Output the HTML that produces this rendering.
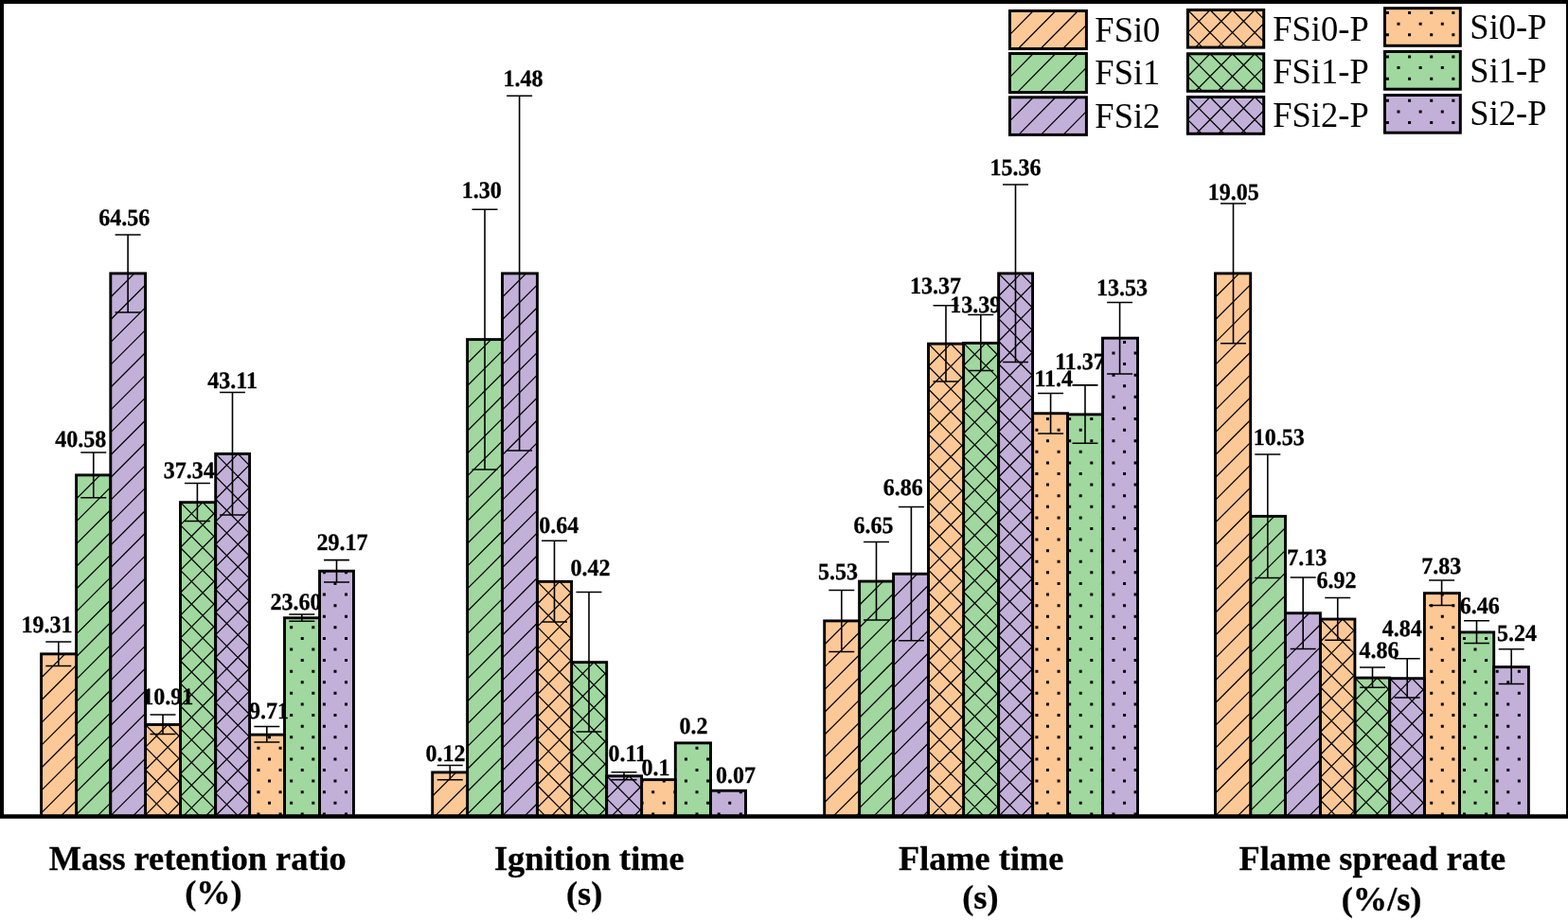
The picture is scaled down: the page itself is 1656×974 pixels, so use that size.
<!DOCTYPE html>
<html lang="en"><head><meta charset="utf-8"><title>Flame test bar chart</title>
<style>html,body{margin:0;padding:0;background:#fff}body{width:1656px;height:974px;overflow:hidden}svg{display:block}text{font-family:"Liberation Serif","Times New Roman",serif;fill:#000}.l{font-weight:bold;font-size:24.0px;stroke:#000;stroke-width:.3px}.c{font-weight:bold;font-size:36.3px;stroke:#000;stroke-width:.3px}.g{font-size:36.5px}</style></head><body>
<svg width="1656" height="974" viewBox="0 0 1656 974">
<rect width="1656" height="974" fill="#fff"/>
<g>
<rect x="80.6" y="501.89" width="36.2" height="360.51" fill="#A0D89F"/>
<path d="M80.6 503.19L81.9 501.89M80.6 527.01L105.72 501.89M80.6 550.83L116.8 514.63M80.6 574.65L116.8 538.45M80.6 598.47L116.8 562.27M80.6 622.29L116.8 586.09M80.6 646.11L116.8 609.91M80.6 669.93L116.8 633.73M80.6 693.75L116.8 657.55M80.6 717.57L116.8 681.37M80.6 741.39L116.8 705.19M80.6 765.21L116.8 729.01M80.6 789.03L116.8 752.83M80.6 812.85L116.8 776.65M80.6 836.67L116.8 800.47M80.6 860.49L116.8 824.29M102.51 862.4L116.8 848.11" stroke="#000" stroke-width="1.25" fill="none"/>
<rect x="80.6" y="501.89" width="36.2" height="360.51" fill="none" stroke="#000" stroke-width="2.9"/>
<rect x="190.5" y="530.67" width="37.2" height="331.73" fill="#A0D89F"/>
<path d="M190.5 554.57L214.1 530.67M190.5 578.47L227.7 540.8M190.5 602.37L227.7 564.7M190.5 626.27L227.7 588.6M190.5 650.17L227.7 612.5M190.5 674.07L227.7 636.4M190.5 697.97L227.7 660.3M190.5 721.87L227.7 684.2M190.5 745.77L227.7 708.1M190.5 769.67L227.7 732M190.5 793.57L227.7 755.9M190.5 817.47L227.7 779.8M190.5 841.37L227.7 803.7M193.34 862.4L227.7 827.6M216.94 862.4L227.7 851.5M214.1 530.67L227.7 544.44M190.5 530.67L227.7 568.34M190.5 554.57L227.7 592.24M190.5 578.47L227.7 616.14M190.5 602.37L227.7 640.04M190.5 626.27L227.7 663.94M190.5 650.17L227.7 687.84M190.5 674.07L227.7 711.74M190.5 697.97L227.7 735.64M190.5 721.87L227.7 759.54M190.5 745.77L227.7 783.44M190.5 769.67L227.7 807.34M190.5 793.57L227.7 831.24M190.5 817.47L227.7 855.14M190.5 841.37L211.26 862.4" stroke="#000" stroke-width="1.25" fill="none"/>
<rect x="190.5" y="530.67" width="37.2" height="331.73" fill="none" stroke="#000" stroke-width="2.9"/>
<rect x="300.5" y="652.74" width="37.05" height="209.66" fill="#A0D89F"/>
<path d="M306.15 661.31H309.15V664.31H306.15ZM306.15 684.5H309.15V687.5H306.15ZM306.15 707.68H309.15V710.68H306.15ZM306.15 730.87H309.15V733.87H306.15ZM306.15 754.06H309.15V757.06H306.15ZM306.15 777.24H309.15V780.24H306.15ZM306.15 800.43H309.15V803.43H306.15ZM306.15 823.61H309.15V826.61H306.15ZM306.15 846.8H309.15V849.8H306.15ZM329.31 661.31H332.31V664.31H329.31ZM329.31 684.5H332.31V687.5H329.31ZM329.31 707.68H332.31V710.68H329.31ZM329.31 730.87H332.31V733.87H329.31ZM329.31 754.06H332.31V757.06H329.31ZM329.31 777.24H332.31V780.24H329.31ZM329.31 800.43H332.31V803.43H329.31ZM329.31 823.61H332.31V826.61H329.31ZM329.31 846.8H332.31V849.8H329.31ZM317.73 672.9H320.73V675.9H317.73ZM317.73 696.09H320.73V699.09H317.73ZM317.73 719.28H320.73V722.28H317.73ZM317.73 742.46H320.73V745.46H317.73ZM317.73 765.65H320.73V768.65H317.73ZM317.73 788.83H320.73V791.83H317.73ZM317.73 812.02H320.73V815.02H317.73ZM317.73 835.21H320.73V838.21H317.73ZM317.73 858.39H320.73V861.39H317.73Z" fill="#000"/>
<rect x="300.5" y="652.74" width="37.05" height="209.66" fill="none" stroke="#000" stroke-width="2.9"/>
<rect x="493.6" y="358.61" width="36.9" height="503.79" fill="#A0D89F"/>
<path d="M493.6 359.91L494.9 358.61M493.6 383.73L518.72 358.61M493.6 407.55L530.5 370.65M493.6 431.37L530.5 394.47M493.6 455.19L530.5 418.29M493.6 479.01L530.5 442.11M493.6 502.83L530.5 465.93M493.6 526.65L530.5 489.75M493.6 550.47L530.5 513.57M493.6 574.29L530.5 537.39M493.6 598.11L530.5 561.21M493.6 621.93L530.5 585.03M493.6 645.75L530.5 608.85M493.6 669.57L530.5 632.67M493.6 693.39L530.5 656.49M493.6 717.21L530.5 680.31M493.6 741.03L530.5 704.13M493.6 764.85L530.5 727.95M493.6 788.67L530.5 751.77M493.6 812.49L530.5 775.59M493.6 836.31L530.5 799.41M493.6 860.13L530.5 823.23M515.15 862.4L530.5 847.05" stroke="#000" stroke-width="1.25" fill="none"/>
<rect x="493.6" y="358.61" width="36.9" height="503.79" fill="none" stroke="#000" stroke-width="2.9"/>
<rect x="603.6" y="699.64" width="37.1" height="162.76" fill="#A0D89F"/>
<path d="M603.6 723.54L627.2 699.64M603.6 747.44L640.7 709.86M603.6 771.34L640.7 733.76M603.6 795.24L640.7 757.66M603.6 819.14L640.7 781.56M603.6 843.04L640.7 805.46M608.08 862.4L640.7 829.36M631.68 862.4L640.7 853.26M627.2 699.64L640.7 713.31M603.6 699.64L640.7 737.21M603.6 723.54L640.7 761.11M603.6 747.44L640.7 785.01M603.6 771.34L640.7 808.91M603.6 795.24L640.7 832.81M603.6 819.14L640.7 856.71M603.6 843.04L622.72 862.4" stroke="#000" stroke-width="1.25" fill="none"/>
<rect x="603.6" y="699.64" width="37.1" height="162.76" fill="none" stroke="#000" stroke-width="2.9"/>
<rect x="713.3" y="784.89" width="37.2" height="77.51" fill="#A0D89F"/>
<path d="M722.95 800.43H725.95V803.43H722.95ZM722.95 823.61H725.95V826.61H722.95ZM722.95 846.8H725.95V849.8H722.95ZM746.1 800.43H749.1V803.43H746.1ZM746.1 823.61H749.1V826.61H746.1ZM746.1 846.8H749.1V849.8H746.1ZM713.3 788.83H714.37V791.83H713.3ZM713.3 812.02H714.37V815.02H713.3ZM713.3 835.21H714.37V838.21H713.3ZM713.3 858.39H714.37V861.39H713.3ZM734.52 788.83H737.52V791.83H734.52ZM734.52 812.02H737.52V815.02H734.52ZM734.52 835.21H737.52V838.21H734.52ZM734.52 858.39H737.52V861.39H734.52Z" fill="#000"/>
<rect x="713.3" y="784.89" width="37.2" height="77.51" fill="none" stroke="#000" stroke-width="2.9"/>
<rect x="907.6" y="614.09" width="36" height="248.31" fill="#A0D89F"/>
<path d="M907.6 615.39L908.9 614.09M907.6 639.21L932.72 614.09M907.6 663.03L943.6 627.03M907.6 686.85L943.6 650.85M907.6 710.67L943.6 674.67M907.6 734.49L943.6 698.49M907.6 758.31L943.6 722.31M907.6 782.13L943.6 746.13M907.6 805.95L943.6 769.95M907.6 829.77L943.6 793.77M907.6 853.59L943.6 817.59M922.61 862.4L943.6 841.41" stroke="#000" stroke-width="1.25" fill="none"/>
<rect x="907.6" y="614.09" width="36" height="248.31" fill="none" stroke="#000" stroke-width="2.9"/>
<rect x="1017.6" y="362.41" width="37.05" height="499.99" fill="#A0D89F"/>
<path d="M1017.6 386.31L1041.2 362.41M1017.6 410.21L1054.65 372.69M1017.6 434.11L1054.65 396.59M1017.6 458.01L1054.65 420.49M1017.6 481.91L1054.65 444.39M1017.6 505.81L1054.65 468.29M1017.6 529.71L1054.65 492.19M1017.6 553.61L1054.65 516.09M1017.6 577.51L1054.65 539.99M1017.6 601.41L1054.65 563.89M1017.6 625.31L1054.65 587.79M1017.6 649.21L1054.65 611.69M1017.6 673.11L1054.65 635.59M1017.6 697.01L1054.65 659.49M1017.6 720.91L1054.65 683.39M1017.6 744.81L1054.65 707.29M1017.6 768.71L1054.65 731.19M1017.6 792.61L1054.65 755.09M1017.6 816.51L1054.65 778.99M1017.6 840.41L1054.65 802.89M1019.49 862.4L1054.65 826.79M1043.09 862.4L1054.65 850.69M1041.2 362.41L1054.65 376.03M1017.6 362.41L1054.65 399.93M1017.6 386.31L1054.65 423.83M1017.6 410.21L1054.65 447.73M1017.6 434.11L1054.65 471.63M1017.6 458.01L1054.65 495.53M1017.6 481.91L1054.65 519.43M1017.6 505.81L1054.65 543.33M1017.6 529.71L1054.65 567.23M1017.6 553.61L1054.65 591.13M1017.6 577.51L1054.65 615.03M1017.6 601.41L1054.65 638.93M1017.6 625.31L1054.65 662.83M1017.6 649.21L1054.65 686.73M1017.6 673.11L1054.65 710.63M1017.6 697.01L1054.65 734.53M1017.6 720.91L1054.65 758.43M1017.6 744.81L1054.65 782.33M1017.6 768.71L1054.65 806.23M1017.6 792.61L1054.65 830.13M1017.6 816.51L1054.65 854.03M1017.6 840.41L1039.31 862.4" stroke="#000" stroke-width="1.25" fill="none"/>
<rect x="1017.6" y="362.41" width="37.05" height="499.99" fill="none" stroke="#000" stroke-width="2.9"/>
<rect x="1127.5" y="437.84" width="37" height="424.56" fill="#A0D89F"/>
<path d="M1139.74 452.64H1142.74V455.64H1139.74ZM1139.74 475.82H1142.74V478.82H1139.74ZM1139.74 499.01H1142.74V502.01H1139.74ZM1139.74 522.2H1142.74V525.2H1139.74ZM1139.74 545.38H1142.74V548.38H1139.74ZM1139.74 568.57H1142.74V571.57H1139.74ZM1139.74 591.75H1142.74V594.75H1139.74ZM1139.74 614.94H1142.74V617.94H1139.74ZM1139.74 638.13H1142.74V641.13H1139.74ZM1139.74 661.31H1142.74V664.31H1139.74ZM1139.74 684.5H1142.74V687.5H1139.74ZM1139.74 707.68H1142.74V710.68H1139.74ZM1139.74 730.87H1142.74V733.87H1139.74ZM1139.74 754.06H1142.74V757.06H1139.74ZM1139.74 777.24H1142.74V780.24H1139.74ZM1139.74 800.43H1142.74V803.43H1139.74ZM1139.74 823.61H1142.74V826.61H1139.74ZM1139.74 846.8H1142.74V849.8H1139.74ZM1162.89 452.64H1164.5V455.64H1162.89ZM1162.89 475.82H1164.5V478.82H1162.89ZM1162.89 499.01H1164.5V502.01H1162.89ZM1162.89 522.2H1164.5V525.2H1162.89ZM1162.89 545.38H1164.5V548.38H1162.89ZM1162.89 568.57H1164.5V571.57H1162.89ZM1162.89 591.75H1164.5V594.75H1162.89ZM1162.89 614.94H1164.5V617.94H1162.89ZM1162.89 638.13H1164.5V641.13H1162.89ZM1162.89 661.31H1164.5V664.31H1162.89ZM1162.89 684.5H1164.5V687.5H1162.89ZM1162.89 707.68H1164.5V710.68H1162.89ZM1162.89 730.87H1164.5V733.87H1162.89ZM1162.89 754.06H1164.5V757.06H1162.89ZM1162.89 777.24H1164.5V780.24H1162.89ZM1162.89 800.43H1164.5V803.43H1162.89ZM1162.89 823.61H1164.5V826.61H1162.89ZM1162.89 846.8H1164.5V849.8H1162.89ZM1128.16 441.04H1131.16V444.04H1128.16ZM1128.16 464.23H1131.16V467.23H1128.16ZM1128.16 487.42H1131.16V490.42H1128.16ZM1128.16 510.6H1131.16V513.6H1128.16ZM1128.16 533.79H1131.16V536.79H1128.16ZM1128.16 556.97H1131.16V559.97H1128.16ZM1128.16 580.16H1131.16V583.16H1128.16ZM1128.16 603.35H1131.16V606.35H1128.16ZM1128.16 626.53H1131.16V629.53H1128.16ZM1128.16 649.72H1131.16V652.72H1128.16ZM1128.16 672.9H1131.16V675.9H1128.16ZM1128.16 696.09H1131.16V699.09H1128.16ZM1128.16 719.28H1131.16V722.28H1128.16ZM1128.16 742.46H1131.16V745.46H1128.16ZM1128.16 765.65H1131.16V768.65H1128.16ZM1128.16 788.83H1131.16V791.83H1128.16ZM1128.16 812.02H1131.16V815.02H1128.16ZM1128.16 835.21H1131.16V838.21H1128.16ZM1128.16 858.39H1131.16V861.39H1128.16ZM1151.31 441.04H1154.31V444.04H1151.31ZM1151.31 464.23H1154.31V467.23H1151.31ZM1151.31 487.42H1154.31V490.42H1151.31ZM1151.31 510.6H1154.31V513.6H1151.31ZM1151.31 533.79H1154.31V536.79H1151.31ZM1151.31 556.97H1154.31V559.97H1151.31ZM1151.31 580.16H1154.31V583.16H1151.31ZM1151.31 603.35H1154.31V606.35H1151.31ZM1151.31 626.53H1154.31V629.53H1151.31ZM1151.31 649.72H1154.31V652.72H1151.31ZM1151.31 672.9H1154.31V675.9H1151.31ZM1151.31 696.09H1154.31V699.09H1151.31ZM1151.31 719.28H1154.31V722.28H1151.31ZM1151.31 742.46H1154.31V745.46H1151.31ZM1151.31 765.65H1154.31V768.65H1151.31ZM1151.31 788.83H1154.31V791.83H1151.31ZM1151.31 812.02H1154.31V815.02H1151.31ZM1151.31 835.21H1154.31V838.21H1151.31ZM1151.31 858.39H1154.31V861.39H1151.31Z" fill="#000"/>
<rect x="1127.5" y="437.84" width="37" height="424.56" fill="none" stroke="#000" stroke-width="2.9"/>
<rect x="1320.7" y="545.37" width="36.8" height="317.03" fill="#A0D89F"/>
<path d="M1320.7 546.67L1322 545.37M1320.7 570.49L1345.82 545.37M1320.7 594.31L1357.5 557.51M1320.7 618.13L1357.5 581.33M1320.7 641.95L1357.5 605.15M1320.7 665.77L1357.5 628.97M1320.7 689.59L1357.5 652.79M1320.7 713.41L1357.5 676.61M1320.7 737.23L1357.5 700.43M1320.7 761.05L1357.5 724.25M1320.7 784.87L1357.5 748.07M1320.7 808.69L1357.5 771.89M1320.7 832.51L1357.5 795.71M1320.7 856.33L1357.5 819.53M1338.45 862.4L1357.5 843.35" stroke="#000" stroke-width="1.25" fill="none"/>
<rect x="1320.7" y="545.37" width="36.8" height="317.03" fill="none" stroke="#000" stroke-width="2.9"/>
<rect x="1430.9" y="716.08" width="36.8" height="146.32" fill="#A0D89F"/>
<path d="M1430.9 739.98L1454.5 716.08M1430.9 763.88L1467.7 726.61M1430.9 787.78L1467.7 750.51M1430.9 811.68L1467.7 774.41M1430.9 835.58L1467.7 798.31M1430.9 859.48L1467.7 822.21M1451.61 862.4L1467.7 846.11M1454.5 716.08L1467.7 729.44M1430.9 716.08L1467.7 753.34M1430.9 739.98L1467.7 777.24M1430.9 763.88L1467.7 801.14M1430.9 787.78L1467.7 825.04M1430.9 811.68L1467.7 848.94M1430.9 835.58L1457.39 862.4M1430.9 859.48L1433.79 862.4" stroke="#000" stroke-width="1.25" fill="none"/>
<rect x="1430.9" y="716.08" width="36.8" height="146.32" fill="none" stroke="#000" stroke-width="2.9"/>
<rect x="1541.4" y="667.9" width="36.3" height="194.5" fill="#A0D89F"/>
<path d="M1556.53 684.5H1559.53V687.5H1556.53ZM1556.53 707.68H1559.53V710.68H1556.53ZM1556.53 730.87H1559.53V733.87H1556.53ZM1556.53 754.06H1559.53V757.06H1556.53ZM1556.53 777.24H1559.53V780.24H1556.53ZM1556.53 800.43H1559.53V803.43H1556.53ZM1556.53 823.61H1559.53V826.61H1556.53ZM1556.53 846.8H1559.53V849.8H1556.53ZM1544.95 672.9H1547.95V675.9H1544.95ZM1544.95 696.09H1547.95V699.09H1544.95ZM1544.95 719.28H1547.95V722.28H1544.95ZM1544.95 742.46H1547.95V745.46H1544.95ZM1544.95 765.65H1547.95V768.65H1544.95ZM1544.95 788.83H1547.95V791.83H1544.95ZM1544.95 812.02H1547.95V815.02H1544.95ZM1544.95 835.21H1547.95V838.21H1544.95ZM1544.95 858.39H1547.95V861.39H1544.95ZM1568.1 672.9H1571.1V675.9H1568.1ZM1568.1 696.09H1571.1V699.09H1568.1ZM1568.1 719.28H1571.1V722.28H1568.1ZM1568.1 742.46H1571.1V745.46H1568.1ZM1568.1 765.65H1571.1V768.65H1568.1ZM1568.1 788.83H1571.1V791.83H1568.1ZM1568.1 812.02H1571.1V815.02H1568.1ZM1568.1 835.21H1571.1V838.21H1568.1ZM1568.1 858.39H1571.1V861.39H1568.1Z" fill="#000"/>
<rect x="1541.4" y="667.9" width="36.3" height="194.5" fill="none" stroke="#000" stroke-width="2.9"/>
<path d="M98.75 478V525.75M85.25 478H112.25M85.25 525.75H112.25M208.4 510.5V550.5M194.9 510.5H221.9M194.9 550.5H221.9M318.8 649V656.3M305.3 649H332.3M305.3 656.3H332.3M512 221.25V496M498.5 221.25H525.5M498.5 496H525.5M622 625.5V773M608.5 625.5H635.5M608.5 773H635.5M925.5 572.5V655M912 572.5H939M912 655H939M1035.8 332.5V391.5M1022.3 332.5H1049.3M1022.3 391.5H1049.3M1146 406.9V468.25M1132.5 406.9H1159.5M1132.5 468.25H1159.5M1338.8 480V610.5M1325.3 480H1352.3M1325.3 610.5H1352.3M1449.5 705V726.25M1436 705H1463M1436 726.25H1463M1559.5 655.75V679.5M1546 655.75H1573M1546 679.5H1573" stroke="#000" stroke-width="1.6" fill="none"/>
<g class="l" text-rendering="geometricPrecision">
<text transform="translate(58.27 472.05) scale(1 1.04)">40.58</text>
<text transform="translate(172.7 505.3) scale(1 1.04)">37.34</text>
<text transform="translate(285.59 643.5) scale(1 1.04)">23.60</text>
<text transform="translate(487.68 209.05) scale(1 1.04)">1.30</text>
<text transform="translate(602.44 607.8) scale(1 1.04)">0.42</text>
<text transform="translate(717.44 774.8) scale(1 1.04)">0.2</text>
<text transform="translate(901.53 562.8) scale(1 1.04)">6.65</text>
<text transform="translate(1003.18 329.8) scale(1 1.04)">13.39</text>
<text transform="translate(1114.18 390.3) scale(1 1.04)">11.37</text>
<text transform="translate(1323.78 470.3) scale(1 1.04)">10.53</text>
<text transform="translate(1435.52 695.3) scale(1 1.04)">4.86</text>
<text transform="translate(1541.78 647.8) scale(1 1.04)">6.46</text>
</g></g>
<g>
<rect x="43.6" y="690.85" width="37" height="171.55" fill="#FCC896"/>
<path d="M43.6 692.15L44.9 690.85M43.6 715.97L68.72 690.85M43.6 739.79L80.6 702.79M43.6 763.61L80.6 726.61M43.6 787.43L80.6 750.43M43.6 811.25L80.6 774.25M43.6 835.07L80.6 798.07M43.6 858.89L80.6 821.89M63.91 862.4L80.6 845.71" stroke="#000" stroke-width="1.25" fill="none"/>
<rect x="43.6" y="690.85" width="37" height="171.55" fill="none" stroke="#000" stroke-width="2.9"/>
<rect x="153.55" y="765.48" width="36.95" height="96.92" fill="#FCC896"/>
<path d="M153.55 789.38L177.15 765.48M153.55 813.28L190.5 775.86M153.55 837.18L190.5 799.76M153.55 861.08L190.5 823.66M175.84 862.4L190.5 847.56M177.15 765.48L190.5 779M153.55 765.48L190.5 802.9M153.55 789.38L190.5 826.8M153.55 813.28L190.5 850.7M153.55 837.18L178.46 862.4M153.55 861.08L154.86 862.4" stroke="#000" stroke-width="1.25" fill="none"/>
<rect x="153.55" y="765.48" width="36.95" height="96.92" fill="none" stroke="#000" stroke-width="2.9"/>
<rect x="263.6" y="776.14" width="36.9" height="86.26" fill="#FCC896"/>
<path d="M283 777.24H286V780.24H283ZM283 800.43H286V803.43H283ZM283 823.61H286V826.61H283ZM283 846.8H286V849.8H283ZM271.42 788.83H274.42V791.83H271.42ZM271.42 812.02H274.42V815.02H271.42ZM271.42 835.21H274.42V838.21H271.42ZM271.42 858.39H274.42V861.39H271.42ZM294.58 788.83H297.58V791.83H294.58ZM294.58 812.02H297.58V815.02H294.58ZM294.58 835.21H297.58V838.21H294.58ZM294.58 858.39H297.58V861.39H294.58Z" fill="#000"/>
<rect x="263.6" y="776.14" width="36.9" height="86.26" fill="none" stroke="#000" stroke-width="2.9"/>
<rect x="456.7" y="815.9" width="36.9" height="46.5" fill="#FCC896"/>
<path d="M456.7 817.2L458 815.9M456.7 841.02L481.82 815.9M459.14 862.4L493.6 827.94M482.96 862.4L493.6 851.76" stroke="#000" stroke-width="1.25" fill="none"/>
<rect x="456.7" y="815.9" width="36.9" height="46.5" fill="none" stroke="#000" stroke-width="2.9"/>
<rect x="567.4" y="614.38" width="36.2" height="248.02" fill="#FCC896"/>
<path d="M567.4 638.28L591 614.38M567.4 662.18L603.6 625.52M567.4 686.08L603.6 649.42M567.4 709.98L603.6 673.32M567.4 733.88L603.6 697.22M567.4 757.78L603.6 721.12M567.4 781.68L603.6 745.02M567.4 805.58L603.6 768.92M567.4 829.48L603.6 792.82M567.4 853.38L603.6 816.72M582.09 862.4L603.6 840.62M591 614.38L603.6 627.14M567.4 614.38L603.6 651.04M567.4 638.28L603.6 674.94M567.4 662.18L603.6 698.84M567.4 686.08L603.6 722.74M567.4 709.98L603.6 746.64M567.4 733.88L603.6 770.54M567.4 757.78L603.6 794.44M567.4 781.68L603.6 818.34M567.4 805.58L603.6 842.24M567.4 829.48L599.91 862.4M567.4 853.38L576.31 862.4" stroke="#000" stroke-width="1.25" fill="none"/>
<rect x="567.4" y="614.38" width="36.2" height="248.02" fill="none" stroke="#000" stroke-width="2.9"/>
<rect x="677.6" y="823.65" width="35.7" height="38.75" fill="#FCC896"/>
<path d="M677.6 823.65H679.63V826.61H677.6ZM677.6 846.8H679.63V849.8H677.6ZM699.79 823.65H702.79V826.61H699.79ZM699.79 846.8H702.79V849.8H699.79ZM688.21 835.21H691.21V838.21H688.21ZM688.21 858.39H691.21V861.39H688.21ZM711.37 835.21H713.3V838.21H711.37ZM711.37 858.39H713.3V861.39H711.37Z" fill="#000"/>
<rect x="677.6" y="823.65" width="35.7" height="38.75" fill="none" stroke="#000" stroke-width="2.9"/>
<rect x="870.7" y="655.91" width="36.9" height="206.49" fill="#FCC896"/>
<path d="M870.7 657.21L872 655.91M870.7 681.03L895.82 655.91M870.7 704.85L907.6 667.95M870.7 728.67L907.6 691.77M870.7 752.49L907.6 715.59M870.7 776.31L907.6 739.41M870.7 800.13L907.6 763.23M870.7 823.95L907.6 787.05M870.7 847.77L907.6 810.87M879.89 862.4L907.6 834.69M903.71 862.4L907.6 858.51" stroke="#000" stroke-width="1.25" fill="none"/>
<rect x="870.7" y="655.91" width="36.9" height="206.49" fill="none" stroke="#000" stroke-width="2.9"/>
<rect x="980.5" y="363.16" width="37.1" height="499.24" fill="#FCC896"/>
<path d="M980.5 387.06L1004.1 363.16M980.5 410.96L1017.6 373.39M980.5 434.86L1017.6 397.29M980.5 458.76L1017.6 421.19M980.5 482.66L1017.6 445.09M980.5 506.56L1017.6 468.99M980.5 530.46L1017.6 492.89M980.5 554.36L1017.6 516.79M980.5 578.26L1017.6 540.69M980.5 602.16L1017.6 564.59M980.5 626.06L1017.6 588.49M980.5 649.96L1017.6 612.39M980.5 673.86L1017.6 636.29M980.5 697.76L1017.6 660.19M980.5 721.66L1017.6 684.09M980.5 745.56L1017.6 707.99M980.5 769.46L1017.6 731.89M980.5 793.36L1017.6 755.79M980.5 817.26L1017.6 779.69M980.5 841.16L1017.6 803.59M983.12 862.4L1017.6 827.49M1006.72 862.4L1017.6 851.39M1004.1 363.16L1017.6 376.83M980.5 363.16L1017.6 400.73M980.5 387.06L1017.6 424.63M980.5 410.96L1017.6 448.53M980.5 434.86L1017.6 472.43M980.5 458.76L1017.6 496.33M980.5 482.66L1017.6 520.23M980.5 506.56L1017.6 544.13M980.5 530.46L1017.6 568.03M980.5 554.36L1017.6 591.93M980.5 578.26L1017.6 615.83M980.5 602.16L1017.6 639.73M980.5 626.06L1017.6 663.63M980.5 649.96L1017.6 687.53M980.5 673.86L1017.6 711.43M980.5 697.76L1017.6 735.33M980.5 721.66L1017.6 759.23M980.5 745.56L1017.6 783.13M980.5 769.46L1017.6 807.03M980.5 793.36L1017.6 830.93M980.5 817.26L1017.6 854.83M980.5 841.16L1001.48 862.4" stroke="#000" stroke-width="1.25" fill="none"/>
<rect x="980.5" y="363.16" width="37.1" height="499.24" fill="none" stroke="#000" stroke-width="2.9"/>
<rect x="1090.6" y="436.72" width="36.9" height="425.68" fill="#FCC896"/>
<path d="M1093.43 452.64H1096.43V455.64H1093.43ZM1093.43 475.82H1096.43V478.82H1093.43ZM1093.43 499.01H1096.43V502.01H1093.43ZM1093.43 522.2H1096.43V525.2H1093.43ZM1093.43 545.38H1096.43V548.38H1093.43ZM1093.43 568.57H1096.43V571.57H1093.43ZM1093.43 591.75H1096.43V594.75H1093.43ZM1093.43 614.94H1096.43V617.94H1093.43ZM1093.43 638.13H1096.43V641.13H1093.43ZM1093.43 661.31H1096.43V664.31H1093.43ZM1093.43 684.5H1096.43V687.5H1093.43ZM1093.43 707.68H1096.43V710.68H1093.43ZM1093.43 730.87H1096.43V733.87H1093.43ZM1093.43 754.06H1096.43V757.06H1093.43ZM1093.43 777.24H1096.43V780.24H1093.43ZM1093.43 800.43H1096.43V803.43H1093.43ZM1093.43 823.61H1096.43V826.61H1093.43ZM1093.43 846.8H1096.43V849.8H1093.43ZM1116.58 452.64H1119.58V455.64H1116.58ZM1116.58 475.82H1119.58V478.82H1116.58ZM1116.58 499.01H1119.58V502.01H1116.58ZM1116.58 522.2H1119.58V525.2H1116.58ZM1116.58 545.38H1119.58V548.38H1116.58ZM1116.58 568.57H1119.58V571.57H1116.58ZM1116.58 591.75H1119.58V594.75H1116.58ZM1116.58 614.94H1119.58V617.94H1116.58ZM1116.58 638.13H1119.58V641.13H1116.58ZM1116.58 661.31H1119.58V664.31H1116.58ZM1116.58 684.5H1119.58V687.5H1116.58ZM1116.58 707.68H1119.58V710.68H1116.58ZM1116.58 730.87H1119.58V733.87H1116.58ZM1116.58 754.06H1119.58V757.06H1116.58ZM1116.58 777.24H1119.58V780.24H1116.58ZM1116.58 800.43H1119.58V803.43H1116.58ZM1116.58 823.61H1119.58V826.61H1116.58ZM1116.58 846.8H1119.58V849.8H1116.58ZM1105 441.04H1108V444.04H1105ZM1105 464.23H1108V467.23H1105ZM1105 487.42H1108V490.42H1105ZM1105 510.6H1108V513.6H1105ZM1105 533.79H1108V536.79H1105ZM1105 556.97H1108V559.97H1105ZM1105 580.16H1108V583.16H1105ZM1105 603.35H1108V606.35H1105ZM1105 626.53H1108V629.53H1105ZM1105 649.72H1108V652.72H1105ZM1105 672.9H1108V675.9H1105ZM1105 696.09H1108V699.09H1105ZM1105 719.28H1108V722.28H1105ZM1105 742.46H1108V745.46H1105ZM1105 765.65H1108V768.65H1105ZM1105 788.83H1108V791.83H1105ZM1105 812.02H1108V815.02H1105ZM1105 835.21H1108V838.21H1105ZM1105 858.39H1108V861.39H1105Z" fill="#000"/>
<rect x="1090.6" y="436.72" width="36.9" height="425.68" fill="none" stroke="#000" stroke-width="2.9"/>
<rect x="1283.5" y="288.85" width="37.2" height="573.55" fill="#FCC896"/>
<path d="M1283.5 290.15L1284.8 288.85M1283.5 313.97L1308.62 288.85M1283.5 337.79L1320.7 300.59M1283.5 361.61L1320.7 324.41M1283.5 385.43L1320.7 348.23M1283.5 409.25L1320.7 372.05M1283.5 433.07L1320.7 395.87M1283.5 456.89L1320.7 419.69M1283.5 480.71L1320.7 443.51M1283.5 504.53L1320.7 467.33M1283.5 528.35L1320.7 491.15M1283.5 552.17L1320.7 514.97M1283.5 575.99L1320.7 538.79M1283.5 599.81L1320.7 562.61M1283.5 623.63L1320.7 586.43M1283.5 647.45L1320.7 610.25M1283.5 671.27L1320.7 634.07M1283.5 695.09L1320.7 657.89M1283.5 718.91L1320.7 681.71M1283.5 742.73L1320.7 705.53M1283.5 766.55L1320.7 729.35M1283.5 790.37L1320.7 753.17M1283.5 814.19L1320.7 776.99M1283.5 838.01L1320.7 800.81M1283.5 861.83L1320.7 824.63M1306.75 862.4L1320.7 848.45" stroke="#000" stroke-width="1.25" fill="none"/>
<rect x="1283.5" y="288.85" width="37.2" height="573.55" fill="none" stroke="#000" stroke-width="2.9"/>
<rect x="1394.4" y="654.06" width="36.5" height="208.34" fill="#FCC896"/>
<path d="M1394.4 677.96L1418 654.06M1394.4 701.86L1430.9 664.89M1394.4 725.76L1430.9 688.79M1394.4 749.66L1430.9 712.69M1394.4 773.56L1430.9 736.59M1394.4 797.46L1430.9 760.49M1394.4 821.36L1430.9 784.39M1394.4 845.26L1430.9 808.29M1401.07 862.4L1430.9 832.19M1424.67 862.4L1430.9 856.09M1418 654.06L1430.9 667.12M1394.4 654.06L1430.9 691.02M1394.4 677.96L1430.9 714.92M1394.4 701.86L1430.9 738.82M1394.4 725.76L1430.9 762.72M1394.4 749.66L1430.9 786.62M1394.4 773.56L1430.9 810.52M1394.4 797.46L1430.9 834.42M1394.4 821.36L1430.9 858.32M1394.4 845.26L1411.33 862.4" stroke="#000" stroke-width="1.25" fill="none"/>
<rect x="1394.4" y="654.06" width="36.5" height="208.34" fill="none" stroke="#000" stroke-width="2.9"/>
<rect x="1504.4" y="626.66" width="37" height="235.74" fill="#FCC896"/>
<path d="M1510.22 638.13H1513.22V641.13H1510.22ZM1510.22 661.31H1513.22V664.31H1510.22ZM1510.22 684.5H1513.22V687.5H1510.22ZM1510.22 707.68H1513.22V710.68H1510.22ZM1510.22 730.87H1513.22V733.87H1510.22ZM1510.22 754.06H1513.22V757.06H1510.22ZM1510.22 777.24H1513.22V780.24H1510.22ZM1510.22 800.43H1513.22V803.43H1510.22ZM1510.22 823.61H1513.22V826.61H1510.22ZM1510.22 846.8H1513.22V849.8H1510.22ZM1533.37 638.13H1536.37V641.13H1533.37ZM1533.37 661.31H1536.37V664.31H1533.37ZM1533.37 684.5H1536.37V687.5H1533.37ZM1533.37 707.68H1536.37V710.68H1533.37ZM1533.37 730.87H1536.37V733.87H1533.37ZM1533.37 754.06H1536.37V757.06H1533.37ZM1533.37 777.24H1536.37V780.24H1533.37ZM1533.37 800.43H1536.37V803.43H1533.37ZM1533.37 823.61H1536.37V826.61H1533.37ZM1533.37 846.8H1536.37V849.8H1533.37ZM1521.79 626.66H1524.79V629.53H1521.79ZM1521.79 649.72H1524.79V652.72H1521.79ZM1521.79 672.9H1524.79V675.9H1521.79ZM1521.79 696.09H1524.79V699.09H1521.79ZM1521.79 719.28H1524.79V722.28H1521.79ZM1521.79 742.46H1524.79V745.46H1521.79ZM1521.79 765.65H1524.79V768.65H1521.79ZM1521.79 788.83H1524.79V791.83H1521.79ZM1521.79 812.02H1524.79V815.02H1521.79ZM1521.79 835.21H1524.79V838.21H1521.79ZM1521.79 858.39H1524.79V861.39H1521.79Z" fill="#000"/>
<rect x="1504.4" y="626.66" width="37" height="235.74" fill="none" stroke="#000" stroke-width="2.9"/>
<path d="M61.8 678V703.5M48.3 678H75.3M48.3 703.5H75.3M172 755V775.5M158.5 755H185.5M158.5 775.5H185.5M281.8 767.5V784M268.3 767.5H295.3M268.3 784H295.3M475.25 808.5V823.75M461.75 808.5H488.75M461.75 823.75H488.75M585.5 571.25V657M572 571.25H599M572 657H599M888.8 623.5V688.5M875.3 623.5H902.3M875.3 688.5H902.3M999 322.75V403M985.5 322.75H1012.5M985.5 403H1012.5M1109.6 415.5V458M1096.1 415.5H1123.1M1096.1 458H1123.1M1302.5 215V362.75M1289 215H1316M1289 362.75H1316M1412.75 631.5V676.25M1399.25 631.5H1426.25M1399.25 676.25H1426.25M1522.6 613V639.5M1509.1 613H1536.1M1509.1 639.5H1536.1" stroke="#000" stroke-width="1.6" fill="none"/>
<g class="l" text-rendering="geometricPrecision">
<text transform="translate(22.43 667.8) scale(1 1.04)">19.31</text>
<text transform="translate(150.33 744.05) scale(1 1.04)">10.91</text>
<text transform="translate(262.94 759) scale(1 1.04)">9.71</text>
<text transform="translate(449.44 803.55) scale(1 1.04)">0.12</text>
<text transform="translate(569.19 562.8) scale(1 1.04)">0.64</text>
<text transform="translate(677.44 819.05) scale(1 1.04)">0.1</text>
<text transform="translate(863.89 612.05) scale(1 1.04)">5.53</text>
<text transform="translate(960.93 310.3) scale(1 1.04)">13.37</text>
<text transform="translate(1092.43 407.55) scale(1 1.04)">11.4</text>
<text transform="translate(1275.68 211.35) scale(1 1.04)">19.05</text>
<text transform="translate(1390.53 621) scale(1 1.04)">6.92</text>
<text transform="translate(1501.23 605.8) scale(1 1.04)">7.83</text>
</g></g>
<g>
<rect x="116.8" y="288.85" width="36.75" height="573.55" fill="#C2B0D9"/>
<path d="M116.8 290.15L118.1 288.85M116.8 313.97L141.92 288.85M116.8 337.79L153.55 301.04M116.8 361.61L153.55 324.86M116.8 385.43L153.55 348.68M116.8 409.25L153.55 372.5M116.8 433.07L153.55 396.32M116.8 456.89L153.55 420.14M116.8 480.71L153.55 443.96M116.8 504.53L153.55 467.78M116.8 528.35L153.55 491.6M116.8 552.17L153.55 515.42M116.8 575.99L153.55 539.24M116.8 599.81L153.55 563.06M116.8 623.63L153.55 586.88M116.8 647.45L153.55 610.7M116.8 671.27L153.55 634.52M116.8 695.09L153.55 658.34M116.8 718.91L153.55 682.16M116.8 742.73L153.55 705.98M116.8 766.55L153.55 729.8M116.8 790.37L153.55 753.62M116.8 814.19L153.55 777.44M116.8 838.01L153.55 801.26M116.8 861.83L153.55 825.08M140.05 862.4L153.55 848.9" stroke="#000" stroke-width="1.25" fill="none"/>
<rect x="116.8" y="288.85" width="36.75" height="573.55" fill="none" stroke="#000" stroke-width="2.9"/>
<rect x="227.7" y="479.41" width="35.9" height="382.99" fill="#C2B0D9"/>
<path d="M227.7 503.31L251.3 479.41M227.7 527.21L263.6 490.86M227.7 551.11L263.6 514.76M227.7 575.01L263.6 538.66M227.7 598.91L263.6 562.56M227.7 622.81L263.6 586.46M227.7 646.71L263.6 610.36M227.7 670.61L263.6 634.26M227.7 694.51L263.6 658.16M227.7 718.41L263.6 682.06M227.7 742.31L263.6 705.96M227.7 766.21L263.6 729.86M227.7 790.11L263.6 753.76M227.7 814.01L263.6 777.66M227.7 837.91L263.6 801.56M227.7 861.81L263.6 825.46M250.72 862.4L263.6 849.36M251.3 479.41L263.6 491.87M227.7 479.41L263.6 515.77M227.7 503.31L263.6 539.67M227.7 527.21L263.6 563.57M227.7 551.11L263.6 587.47M227.7 575.01L263.6 611.37M227.7 598.91L263.6 635.27M227.7 622.81L263.6 659.17M227.7 646.71L263.6 683.07M227.7 670.61L263.6 706.97M227.7 694.51L263.6 730.87M227.7 718.41L263.6 754.77M227.7 742.31L263.6 778.67M227.7 766.21L263.6 802.57M227.7 790.11L263.6 826.47M227.7 814.01L263.6 850.37M227.7 837.91L251.88 862.4M227.7 861.81L228.28 862.4" stroke="#000" stroke-width="1.25" fill="none"/>
<rect x="227.7" y="479.41" width="35.9" height="382.99" fill="none" stroke="#000" stroke-width="2.9"/>
<rect x="337.55" y="603.25" width="35.9" height="259.15" fill="#C2B0D9"/>
<path d="M352.47 614.94H355.47V617.94H352.47ZM352.47 638.13H355.47V641.13H352.47ZM352.47 661.31H355.47V664.31H352.47ZM352.47 684.5H355.47V687.5H352.47ZM352.47 707.68H355.47V710.68H352.47ZM352.47 730.87H355.47V733.87H352.47ZM352.47 754.06H355.47V757.06H352.47ZM352.47 777.24H355.47V780.24H352.47ZM352.47 800.43H355.47V803.43H352.47ZM352.47 823.61H355.47V826.61H352.47ZM352.47 846.8H355.47V849.8H352.47ZM340.89 603.35H343.89V606.35H340.89ZM340.89 626.53H343.89V629.53H340.89ZM340.89 649.72H343.89V652.72H340.89ZM340.89 672.9H343.89V675.9H340.89ZM340.89 696.09H343.89V699.09H340.89ZM340.89 719.28H343.89V722.28H340.89ZM340.89 742.46H343.89V745.46H340.89ZM340.89 765.65H343.89V768.65H340.89ZM340.89 788.83H343.89V791.83H340.89ZM340.89 812.02H343.89V815.02H340.89ZM340.89 835.21H343.89V838.21H340.89ZM340.89 858.39H343.89V861.39H340.89ZM364.04 603.35H367.04V606.35H364.04ZM364.04 626.53H367.04V629.53H364.04ZM364.04 649.72H367.04V652.72H364.04ZM364.04 672.9H367.04V675.9H364.04ZM364.04 696.09H367.04V699.09H364.04ZM364.04 719.28H367.04V722.28H364.04ZM364.04 742.46H367.04V745.46H364.04ZM364.04 765.65H367.04V768.65H364.04ZM364.04 788.83H367.04V791.83H364.04ZM364.04 812.02H367.04V815.02H364.04ZM364.04 835.21H367.04V838.21H364.04ZM364.04 858.39H367.04V861.39H364.04Z" fill="#000"/>
<rect x="337.55" y="603.25" width="35.9" height="259.15" fill="none" stroke="#000" stroke-width="2.9"/>
<rect x="530.5" y="288.85" width="36.9" height="573.55" fill="#C2B0D9"/>
<path d="M530.5 290.15L531.8 288.85M530.5 313.97L555.62 288.85M530.5 337.79L567.4 300.89M530.5 361.61L567.4 324.71M530.5 385.43L567.4 348.53M530.5 409.25L567.4 372.35M530.5 433.07L567.4 396.17M530.5 456.89L567.4 419.99M530.5 480.71L567.4 443.81M530.5 504.53L567.4 467.63M530.5 528.35L567.4 491.45M530.5 552.17L567.4 515.27M530.5 575.99L567.4 539.09M530.5 599.81L567.4 562.91M530.5 623.63L567.4 586.73M530.5 647.45L567.4 610.55M530.5 671.27L567.4 634.37M530.5 695.09L567.4 658.19M530.5 718.91L567.4 682.01M530.5 742.73L567.4 705.83M530.5 766.55L567.4 729.65M530.5 790.37L567.4 753.47M530.5 814.19L567.4 777.29M530.5 838.01L567.4 801.11M530.5 861.83L567.4 824.93M553.75 862.4L567.4 848.75" stroke="#000" stroke-width="1.25" fill="none"/>
<rect x="530.5" y="288.85" width="36.9" height="573.55" fill="none" stroke="#000" stroke-width="2.9"/>
<rect x="640.7" y="819.77" width="36.9" height="42.63" fill="#C2B0D9"/>
<path d="M640.7 843.67L664.3 819.77M645.81 862.4L677.6 830.2M669.41 862.4L677.6 854.1M664.3 819.77L677.6 833.24M640.7 819.77L677.6 857.14M640.7 843.67L659.19 862.4" stroke="#000" stroke-width="1.25" fill="none"/>
<rect x="640.7" y="819.77" width="36.9" height="42.63" fill="none" stroke="#000" stroke-width="2.9"/>
<rect x="750.5" y="835.27" width="37" height="27.13" fill="#C2B0D9"/>
<path d="M769.25 846.8H772.25V849.8H769.25ZM757.68 835.27H760.68V838.21H757.68ZM757.68 858.39H760.68V861.39H757.68ZM780.83 835.27H783.83V838.21H780.83ZM780.83 858.39H783.83V861.39H780.83Z" fill="#000"/>
<rect x="750.5" y="835.27" width="37" height="27.13" fill="none" stroke="#000" stroke-width="2.9"/>
<rect x="943.6" y="606.24" width="36.9" height="256.16" fill="#C2B0D9"/>
<path d="M943.6 607.54L944.9 606.24M943.6 631.36L968.72 606.24M943.6 655.18L980.5 618.28M943.6 679L980.5 642.1M943.6 702.82L980.5 665.92M943.6 726.64L980.5 689.74M943.6 750.46L980.5 713.56M943.6 774.28L980.5 737.38M943.6 798.1L980.5 761.2M943.6 821.92L980.5 785.02M943.6 845.74L980.5 808.84M950.76 862.4L980.5 832.66M974.58 862.4L980.5 856.48" stroke="#000" stroke-width="1.25" fill="none"/>
<rect x="943.6" y="606.24" width="36.9" height="256.16" fill="none" stroke="#000" stroke-width="2.9"/>
<rect x="1054.65" y="288.85" width="35.95" height="573.55" fill="#C2B0D9"/>
<path d="M1054.65 312.75L1078.25 288.85M1054.65 336.65L1090.6 300.24M1054.65 360.55L1090.6 324.14M1054.65 384.45L1090.6 348.04M1054.65 408.35L1090.6 371.94M1054.65 432.25L1090.6 395.84M1054.65 456.15L1090.6 419.74M1054.65 480.05L1090.6 443.64M1054.65 503.95L1090.6 467.54M1054.65 527.85L1090.6 491.44M1054.65 551.75L1090.6 515.34M1054.65 575.65L1090.6 539.24M1054.65 599.55L1090.6 563.14M1054.65 623.45L1090.6 587.04M1054.65 647.35L1090.6 610.94M1054.65 671.25L1090.6 634.84M1054.65 695.15L1090.6 658.74M1054.65 719.05L1090.6 682.64M1054.65 742.95L1090.6 706.54M1054.65 766.85L1090.6 730.44M1054.65 790.75L1090.6 754.34M1054.65 814.65L1090.6 778.24M1054.65 838.55L1090.6 802.14M1054.7 862.4L1090.6 826.04M1078.3 862.4L1090.6 849.94M1078.25 288.85L1090.6 301.36M1054.65 288.85L1090.6 325.26M1054.65 312.75L1090.6 349.16M1054.65 336.65L1090.6 373.06M1054.65 360.55L1090.6 396.96M1054.65 384.45L1090.6 420.86M1054.65 408.35L1090.6 444.76M1054.65 432.25L1090.6 468.66M1054.65 456.15L1090.6 492.56M1054.65 480.05L1090.6 516.46M1054.65 503.95L1090.6 540.36M1054.65 527.85L1090.6 564.26M1054.65 551.75L1090.6 588.16M1054.65 575.65L1090.6 612.06M1054.65 599.55L1090.6 635.96M1054.65 623.45L1090.6 659.86M1054.65 647.35L1090.6 683.76M1054.65 671.25L1090.6 707.66M1054.65 695.15L1090.6 731.56M1054.65 719.05L1090.6 755.46M1054.65 742.95L1090.6 779.36M1054.65 766.85L1090.6 803.26M1054.65 790.75L1090.6 827.16M1054.65 814.65L1090.6 851.06M1054.65 838.55L1078.2 862.4" stroke="#000" stroke-width="1.25" fill="none"/>
<rect x="1054.65" y="288.85" width="35.95" height="573.55" fill="none" stroke="#000" stroke-width="2.9"/>
<rect x="1164.5" y="357.18" width="37" height="505.22" fill="#C2B0D9"/>
<path d="M1164.5 359.89H1165.89V362.89H1164.5ZM1164.5 383.08H1165.89V386.08H1164.5ZM1164.5 406.27H1165.89V409.27H1164.5ZM1164.5 429.45H1165.89V432.45H1164.5ZM1164.5 452.64H1165.89V455.64H1164.5ZM1164.5 475.82H1165.89V478.82H1164.5ZM1164.5 499.01H1165.89V502.01H1164.5ZM1164.5 522.2H1165.89V525.2H1164.5ZM1164.5 545.38H1165.89V548.38H1164.5ZM1164.5 568.57H1165.89V571.57H1164.5ZM1164.5 591.75H1165.89V594.75H1164.5ZM1164.5 614.94H1165.89V617.94H1164.5ZM1164.5 638.13H1165.89V641.13H1164.5ZM1164.5 661.31H1165.89V664.31H1164.5ZM1164.5 684.5H1165.89V687.5H1164.5ZM1164.5 707.68H1165.89V710.68H1164.5ZM1164.5 730.87H1165.89V733.87H1164.5ZM1164.5 754.06H1165.89V757.06H1164.5ZM1164.5 777.24H1165.89V780.24H1164.5ZM1164.5 800.43H1165.89V803.43H1164.5ZM1164.5 823.61H1165.89V826.61H1164.5ZM1164.5 846.8H1165.89V849.8H1164.5ZM1186.05 359.89H1189.05V362.89H1186.05ZM1186.05 383.08H1189.05V386.08H1186.05ZM1186.05 406.27H1189.05V409.27H1186.05ZM1186.05 429.45H1189.05V432.45H1186.05ZM1186.05 452.64H1189.05V455.64H1186.05ZM1186.05 475.82H1189.05V478.82H1186.05ZM1186.05 499.01H1189.05V502.01H1186.05ZM1186.05 522.2H1189.05V525.2H1186.05ZM1186.05 545.38H1189.05V548.38H1186.05ZM1186.05 568.57H1189.05V571.57H1186.05ZM1186.05 591.75H1189.05V594.75H1186.05ZM1186.05 614.94H1189.05V617.94H1186.05ZM1186.05 638.13H1189.05V641.13H1186.05ZM1186.05 661.31H1189.05V664.31H1186.05ZM1186.05 684.5H1189.05V687.5H1186.05ZM1186.05 707.68H1189.05V710.68H1186.05ZM1186.05 730.87H1189.05V733.87H1186.05ZM1186.05 754.06H1189.05V757.06H1186.05ZM1186.05 777.24H1189.05V780.24H1186.05ZM1186.05 800.43H1189.05V803.43H1186.05ZM1186.05 823.61H1189.05V826.61H1186.05ZM1186.05 846.8H1189.05V849.8H1186.05ZM1174.47 371.49H1177.47V374.49H1174.47ZM1174.47 394.67H1177.47V397.67H1174.47ZM1174.47 417.86H1177.47V420.86H1174.47ZM1174.47 441.04H1177.47V444.04H1174.47ZM1174.47 464.23H1177.47V467.23H1174.47ZM1174.47 487.42H1177.47V490.42H1174.47ZM1174.47 510.6H1177.47V513.6H1174.47ZM1174.47 533.79H1177.47V536.79H1174.47ZM1174.47 556.97H1177.47V559.97H1174.47ZM1174.47 580.16H1177.47V583.16H1174.47ZM1174.47 603.35H1177.47V606.35H1174.47ZM1174.47 626.53H1177.47V629.53H1174.47ZM1174.47 649.72H1177.47V652.72H1174.47ZM1174.47 672.9H1177.47V675.9H1174.47ZM1174.47 696.09H1177.47V699.09H1174.47ZM1174.47 719.28H1177.47V722.28H1174.47ZM1174.47 742.46H1177.47V745.46H1174.47ZM1174.47 765.65H1177.47V768.65H1174.47ZM1174.47 788.83H1177.47V791.83H1174.47ZM1174.47 812.02H1177.47V815.02H1174.47ZM1174.47 835.21H1177.47V838.21H1174.47ZM1174.47 858.39H1177.47V861.39H1174.47ZM1197.62 371.49H1200.62V374.49H1197.62ZM1197.62 394.67H1200.62V397.67H1197.62ZM1197.62 417.86H1200.62V420.86H1197.62ZM1197.62 441.04H1200.62V444.04H1197.62ZM1197.62 464.23H1200.62V467.23H1197.62ZM1197.62 487.42H1200.62V490.42H1197.62ZM1197.62 510.6H1200.62V513.6H1197.62ZM1197.62 533.79H1200.62V536.79H1197.62ZM1197.62 556.97H1200.62V559.97H1197.62ZM1197.62 580.16H1200.62V583.16H1197.62ZM1197.62 603.35H1200.62V606.35H1197.62ZM1197.62 626.53H1200.62V629.53H1197.62ZM1197.62 649.72H1200.62V652.72H1197.62ZM1197.62 672.9H1200.62V675.9H1197.62ZM1197.62 696.09H1200.62V699.09H1197.62ZM1197.62 719.28H1200.62V722.28H1197.62ZM1197.62 742.46H1200.62V745.46H1197.62ZM1197.62 765.65H1200.62V768.65H1197.62ZM1197.62 788.83H1200.62V791.83H1197.62ZM1197.62 812.02H1200.62V815.02H1197.62ZM1197.62 835.21H1200.62V838.21H1197.62ZM1197.62 858.39H1200.62V861.39H1197.62Z" fill="#000"/>
<rect x="1164.5" y="357.18" width="37" height="505.22" fill="none" stroke="#000" stroke-width="2.9"/>
<rect x="1357.5" y="647.73" width="36.9" height="214.67" fill="#C2B0D9"/>
<path d="M1357.5 649.03L1358.8 647.73M1357.5 672.85L1382.62 647.73M1357.5 696.67L1394.4 659.77M1357.5 720.49L1394.4 683.59M1357.5 744.31L1394.4 707.41M1357.5 768.13L1394.4 731.23M1357.5 791.95L1394.4 755.05M1357.5 815.77L1394.4 778.87M1357.5 839.59L1394.4 802.69M1358.51 862.4L1394.4 826.51M1382.33 862.4L1394.4 850.33" stroke="#000" stroke-width="1.25" fill="none"/>
<rect x="1357.5" y="647.73" width="36.9" height="214.67" fill="none" stroke="#000" stroke-width="2.9"/>
<rect x="1467.7" y="716.68" width="36.7" height="145.72" fill="#C2B0D9"/>
<path d="M1467.7 740.58L1491.3 716.68M1467.7 764.48L1504.4 727.31M1467.7 788.38L1504.4 751.21M1467.7 812.28L1504.4 775.11M1467.7 836.18L1504.4 799.01M1467.7 860.08L1504.4 822.91M1489.01 862.4L1504.4 846.81M1491.3 716.68L1504.4 729.95M1467.7 716.68L1504.4 753.85M1467.7 740.58L1504.4 777.75M1467.7 764.48L1504.4 801.65M1467.7 788.38L1504.4 825.55M1467.7 812.28L1504.4 849.45M1467.7 836.18L1493.59 862.4M1467.7 860.08L1469.99 862.4" stroke="#000" stroke-width="1.25" fill="none"/>
<rect x="1467.7" y="716.68" width="36.7" height="145.72" fill="none" stroke="#000" stroke-width="2.9"/>
<rect x="1577.7" y="704.64" width="36.7" height="157.76" fill="#C2B0D9"/>
<path d="M1579.68 707.68H1582.68V710.68H1579.68ZM1579.68 730.87H1582.68V733.87H1579.68ZM1579.68 754.06H1582.68V757.06H1579.68ZM1579.68 777.24H1582.68V780.24H1579.68ZM1579.68 800.43H1582.68V803.43H1579.68ZM1579.68 823.61H1582.68V826.61H1579.68ZM1579.68 846.8H1582.68V849.8H1579.68ZM1602.84 707.68H1605.84V710.68H1602.84ZM1602.84 730.87H1605.84V733.87H1602.84ZM1602.84 754.06H1605.84V757.06H1602.84ZM1602.84 777.24H1605.84V780.24H1602.84ZM1602.84 800.43H1605.84V803.43H1602.84ZM1602.84 823.61H1605.84V826.61H1602.84ZM1602.84 846.8H1605.84V849.8H1602.84ZM1591.26 719.28H1594.26V722.28H1591.26ZM1591.26 742.46H1594.26V745.46H1591.26ZM1591.26 765.65H1594.26V768.65H1591.26ZM1591.26 788.83H1594.26V791.83H1591.26ZM1591.26 812.02H1594.26V815.02H1591.26ZM1591.26 835.21H1594.26V838.21H1591.26ZM1591.26 858.39H1594.26V861.39H1591.26Z" fill="#000"/>
<rect x="1577.7" y="704.64" width="36.7" height="157.76" fill="none" stroke="#000" stroke-width="2.9"/>
<path d="M135.1 248V330M121.6 248H148.6M121.6 330H148.6M245.5 414.5V544M232 414.5H259M232 544H259M355.5 591.6V615M342 591.6H369M342 615H369M548.6 101.25V476M535.1 101.25H562.1M535.1 476H562.1M659 815.75V823.75M645.5 815.75H672.5M645.5 823.75H672.5M962.4 535.5V676.75M948.9 535.5H975.9M948.9 676.75H975.9M1072.5 195V382.5M1059 195H1086M1059 382.5H1086M1182.6 319.5V395M1169.1 319.5H1196.1M1169.1 395H1196.1M1376.2 610V685.5M1362.7 610H1389.7M1362.7 685.5H1389.7M1486.2 695.75V737M1472.7 695.75H1499.7M1472.7 737H1499.7M1596.2 685.75V722.5M1582.7 685.75H1609.7M1582.7 722.5H1609.7" stroke="#000" stroke-width="1.6" fill="none"/>
<g class="l" text-rendering="geometricPrecision">
<text transform="translate(104.28 238.3) scale(1 1.04)">64.56</text>
<text transform="translate(219.27 410.3) scale(1 1.04)">43.11</text>
<text transform="translate(334.59 580.8) scale(1 1.04)">29.17</text>
<text transform="translate(531.43 90.85) scale(1 1.04)">1.48</text>
<text transform="translate(642.44 803.95) scale(1 1.04)">0.11</text>
<text transform="translate(755.94 826.8) scale(1 1.04)">0.07</text>
<text transform="translate(932.78 523.3) scale(1 1.04)">6.86</text>
<text transform="translate(1045.43 185.3) scale(1 1.04)">15.36</text>
<text transform="translate(1157.93 312.3) scale(1 1.04)">13.53</text>
<text transform="translate(1359.23 597.05) scale(1 1.04)">7.13</text>
<text transform="translate(1459.77 672.3) scale(1 1.04)">4.84</text>
<text transform="translate(1580.89 676.55) scale(1 1.04)">5.24</text>
</g></g>
<path d="M0 0H1656V4H0ZM0 0H4V864H0ZM1654 0H1656V864H1654ZM0 860.2H1656V864.8H0Z" fill="#000"/>
<g class="c">
<text x="51.87" y="919">Mass retention ratio</text>
<text x="195.16" y="955.3">(%)</text>
<text x="521.93" y="919">Ignition time</text>
<text x="597.95" y="955.9">(s)</text>
<text x="948.98" y="919">Flame time</text>
<text x="1016.25" y="960">(s)</text>
<text x="1308.54" y="919">Flame spread rate</text>
<text x="1416.76" y="962.4">(%/s)</text>
</g>
<rect x="1066.5" y="11.5" width="80.9" height="40.05" fill="#FCC896"/>
<path d="M1066.5 12.7L1067.68 11.5M1066.5 36.6L1091.28 11.5M1075.34 51.55L1114.88 11.5M1098.94 51.55L1138.48 11.5M1122.54 51.55L1147.4 26.37M1146.14 51.55L1147.4 50.27" stroke="#000" stroke-width="1.25" fill="none"/>
<rect x="1066.5" y="11.5" width="80.9" height="40.05" fill="none" stroke="#000" stroke-width="3"/>
<rect x="1066.5" y="56.55" width="80.9" height="41.05" fill="#A0D89F"/>
<path d="M1066.5 57.75L1067.68 56.55M1066.5 81.65L1091.28 56.55M1074.35 97.6L1114.88 56.55M1097.95 97.6L1138.48 56.55M1121.55 97.6L1147.4 71.42M1145.15 97.6L1147.4 95.32" stroke="#000" stroke-width="1.25" fill="none"/>
<rect x="1066.5" y="56.55" width="80.9" height="41.05" fill="none" stroke="#000" stroke-width="3"/>
<rect x="1066.5" y="102.8" width="80.9" height="39.6" fill="#C2B0D9"/>
<path d="M1066.5 104L1067.68 102.8M1066.5 127.9L1091.28 102.8M1075.78 142.4L1114.88 102.8M1099.38 142.4L1138.48 102.8M1122.98 142.4L1147.4 117.67M1146.58 142.4L1147.4 141.57" stroke="#000" stroke-width="1.25" fill="none"/>
<rect x="1066.5" y="102.8" width="80.9" height="39.6" fill="none" stroke="#000" stroke-width="3"/>
<rect x="1254.4" y="10.5" width="80.3" height="39.6" fill="#FCC896"/>
<path d="M1254.4 34.4L1278 10.5M1262.5 50.1L1301.6 10.5M1286.1 50.1L1325.2 10.5M1309.7 50.1L1334.7 24.78M1333.3 50.1L1334.7 48.68M1325.2 10.5L1334.7 20.12M1301.6 10.5L1334.7 44.02M1278 10.5L1317.1 50.1M1254.4 10.5L1293.5 50.1M1254.4 34.4L1269.9 50.1" stroke="#000" stroke-width="1.25" fill="none"/>
<rect x="1254.4" y="10.5" width="80.3" height="39.6" fill="none" stroke="#000" stroke-width="3"/>
<rect x="1254.4" y="56.8" width="80.3" height="39.5" fill="#A0D89F"/>
<path d="M1254.4 80.7L1278 56.8M1262.6 96.3L1301.6 56.8M1286.2 96.3L1325.2 56.8M1309.8 96.3L1334.7 71.08M1333.4 96.3L1334.7 94.98M1325.2 56.8L1334.7 66.42M1301.6 56.8L1334.7 90.32M1278 56.8L1317 96.3M1254.4 56.8L1293.4 96.3M1254.4 80.7L1269.8 96.3" stroke="#000" stroke-width="1.25" fill="none"/>
<rect x="1254.4" y="56.8" width="80.3" height="39.5" fill="none" stroke="#000" stroke-width="3"/>
<rect x="1254.4" y="102.5" width="80.3" height="38.8" fill="#C2B0D9"/>
<path d="M1254.4 126.4L1278 102.5M1263.29 141.3L1301.6 102.5M1286.89 141.3L1325.2 102.5M1310.49 141.3L1334.7 116.78M1334.09 141.3L1334.7 140.68M1325.2 102.5L1334.7 112.12M1301.6 102.5L1334.7 136.02M1278 102.5L1316.31 141.3M1254.4 102.5L1292.71 141.3M1254.4 126.4L1269.11 141.3" stroke="#000" stroke-width="1.25" fill="none"/>
<rect x="1254.4" y="102.5" width="80.3" height="38.8" fill="none" stroke="#000" stroke-width="3"/>
<rect x="1462.5" y="8.7" width="79.8" height="39.6" fill="#FCC896"/>
<path d="M1463.9 12.1H1466.9V15.1H1463.9ZM1463.9 35.29H1466.9V38.29H1463.9ZM1487.06 12.1H1490.06V15.1H1487.06ZM1487.06 35.29H1490.06V38.29H1487.06ZM1510.22 12.1H1513.22V15.1H1510.22ZM1510.22 35.29H1513.22V38.29H1510.22ZM1533.37 12.1H1536.37V15.1H1533.37ZM1533.37 35.29H1536.37V38.29H1533.37ZM1475.48 23.7H1478.48V26.7H1475.48ZM1475.48 46.88H1478.48V48.3H1475.48ZM1498.64 23.7H1501.64V26.7H1498.64ZM1498.64 46.88H1501.64V48.3H1498.64ZM1521.79 23.7H1524.79V26.7H1521.79ZM1521.79 46.88H1524.79V48.3H1521.79Z" fill="#000"/>
<rect x="1462.5" y="8.7" width="79.8" height="39.6" fill="none" stroke="#000" stroke-width="3"/>
<rect x="1462.5" y="54.5" width="79.8" height="39.7" fill="#A0D89F"/>
<path d="M1463.9 58.48H1466.9V61.48H1463.9ZM1463.9 81.66H1466.9V84.66H1463.9ZM1487.06 58.48H1490.06V61.48H1487.06ZM1487.06 81.66H1490.06V84.66H1487.06ZM1510.22 58.48H1513.22V61.48H1510.22ZM1510.22 81.66H1513.22V84.66H1510.22ZM1533.37 58.48H1536.37V61.48H1533.37ZM1533.37 81.66H1536.37V84.66H1533.37ZM1475.48 70.07H1478.48V73.07H1475.48ZM1475.48 93.25H1478.48V94.2H1475.48ZM1498.64 70.07H1501.64V73.07H1498.64ZM1498.64 93.25H1501.64V94.2H1498.64ZM1521.79 70.07H1524.79V73.07H1521.79ZM1521.79 93.25H1524.79V94.2H1521.79Z" fill="#000"/>
<rect x="1462.5" y="54.5" width="79.8" height="39.7" fill="none" stroke="#000" stroke-width="3"/>
<rect x="1462.5" y="100.5" width="79.8" height="39.7" fill="#C2B0D9"/>
<path d="M1463.9 104.85H1466.9V107.85H1463.9ZM1463.9 128.03H1466.9V131.03H1463.9ZM1487.06 104.85H1490.06V107.85H1487.06ZM1487.06 128.03H1490.06V131.03H1487.06ZM1510.22 104.85H1513.22V107.85H1510.22ZM1510.22 128.03H1513.22V131.03H1510.22ZM1533.37 104.85H1536.37V107.85H1533.37ZM1533.37 128.03H1536.37V131.03H1533.37ZM1475.48 116.44H1478.48V119.44H1475.48ZM1475.48 139.63H1478.48V140.2H1475.48ZM1498.64 116.44H1501.64V119.44H1498.64ZM1498.64 139.63H1501.64V140.2H1498.64ZM1521.79 116.44H1524.79V119.44H1521.79ZM1521.79 139.63H1524.79V140.2H1521.79Z" fill="#000"/>
<rect x="1462.5" y="100.5" width="79.8" height="39.7" fill="none" stroke="#000" stroke-width="3"/>
<g class="g">
<text transform="translate(1156.35 43.6) scale(1 1.045)">FSi0</text>
<text transform="translate(1156.35 88.9) scale(1 1.045)">FSi1</text>
<text transform="translate(1156.35 135.1) scale(1 1.045)">FSi2</text>
<text transform="translate(1344.25 42.7) scale(1 1.045)">FSi0-P</text>
<text transform="translate(1344.25 88.4) scale(1 1.045)">FSi1-P</text>
<text transform="translate(1344.25 134.1) scale(1 1.045)">FSi2-P</text>
<text transform="translate(1552.36 40.9) scale(1 1.045)">Si0-P</text>
<text transform="translate(1552.36 86.6) scale(1 1.045)">Si1-P</text>
<text transform="translate(1552.36 132.3) scale(1 1.045)">Si2-P</text>
</g>
</svg></body></html>
